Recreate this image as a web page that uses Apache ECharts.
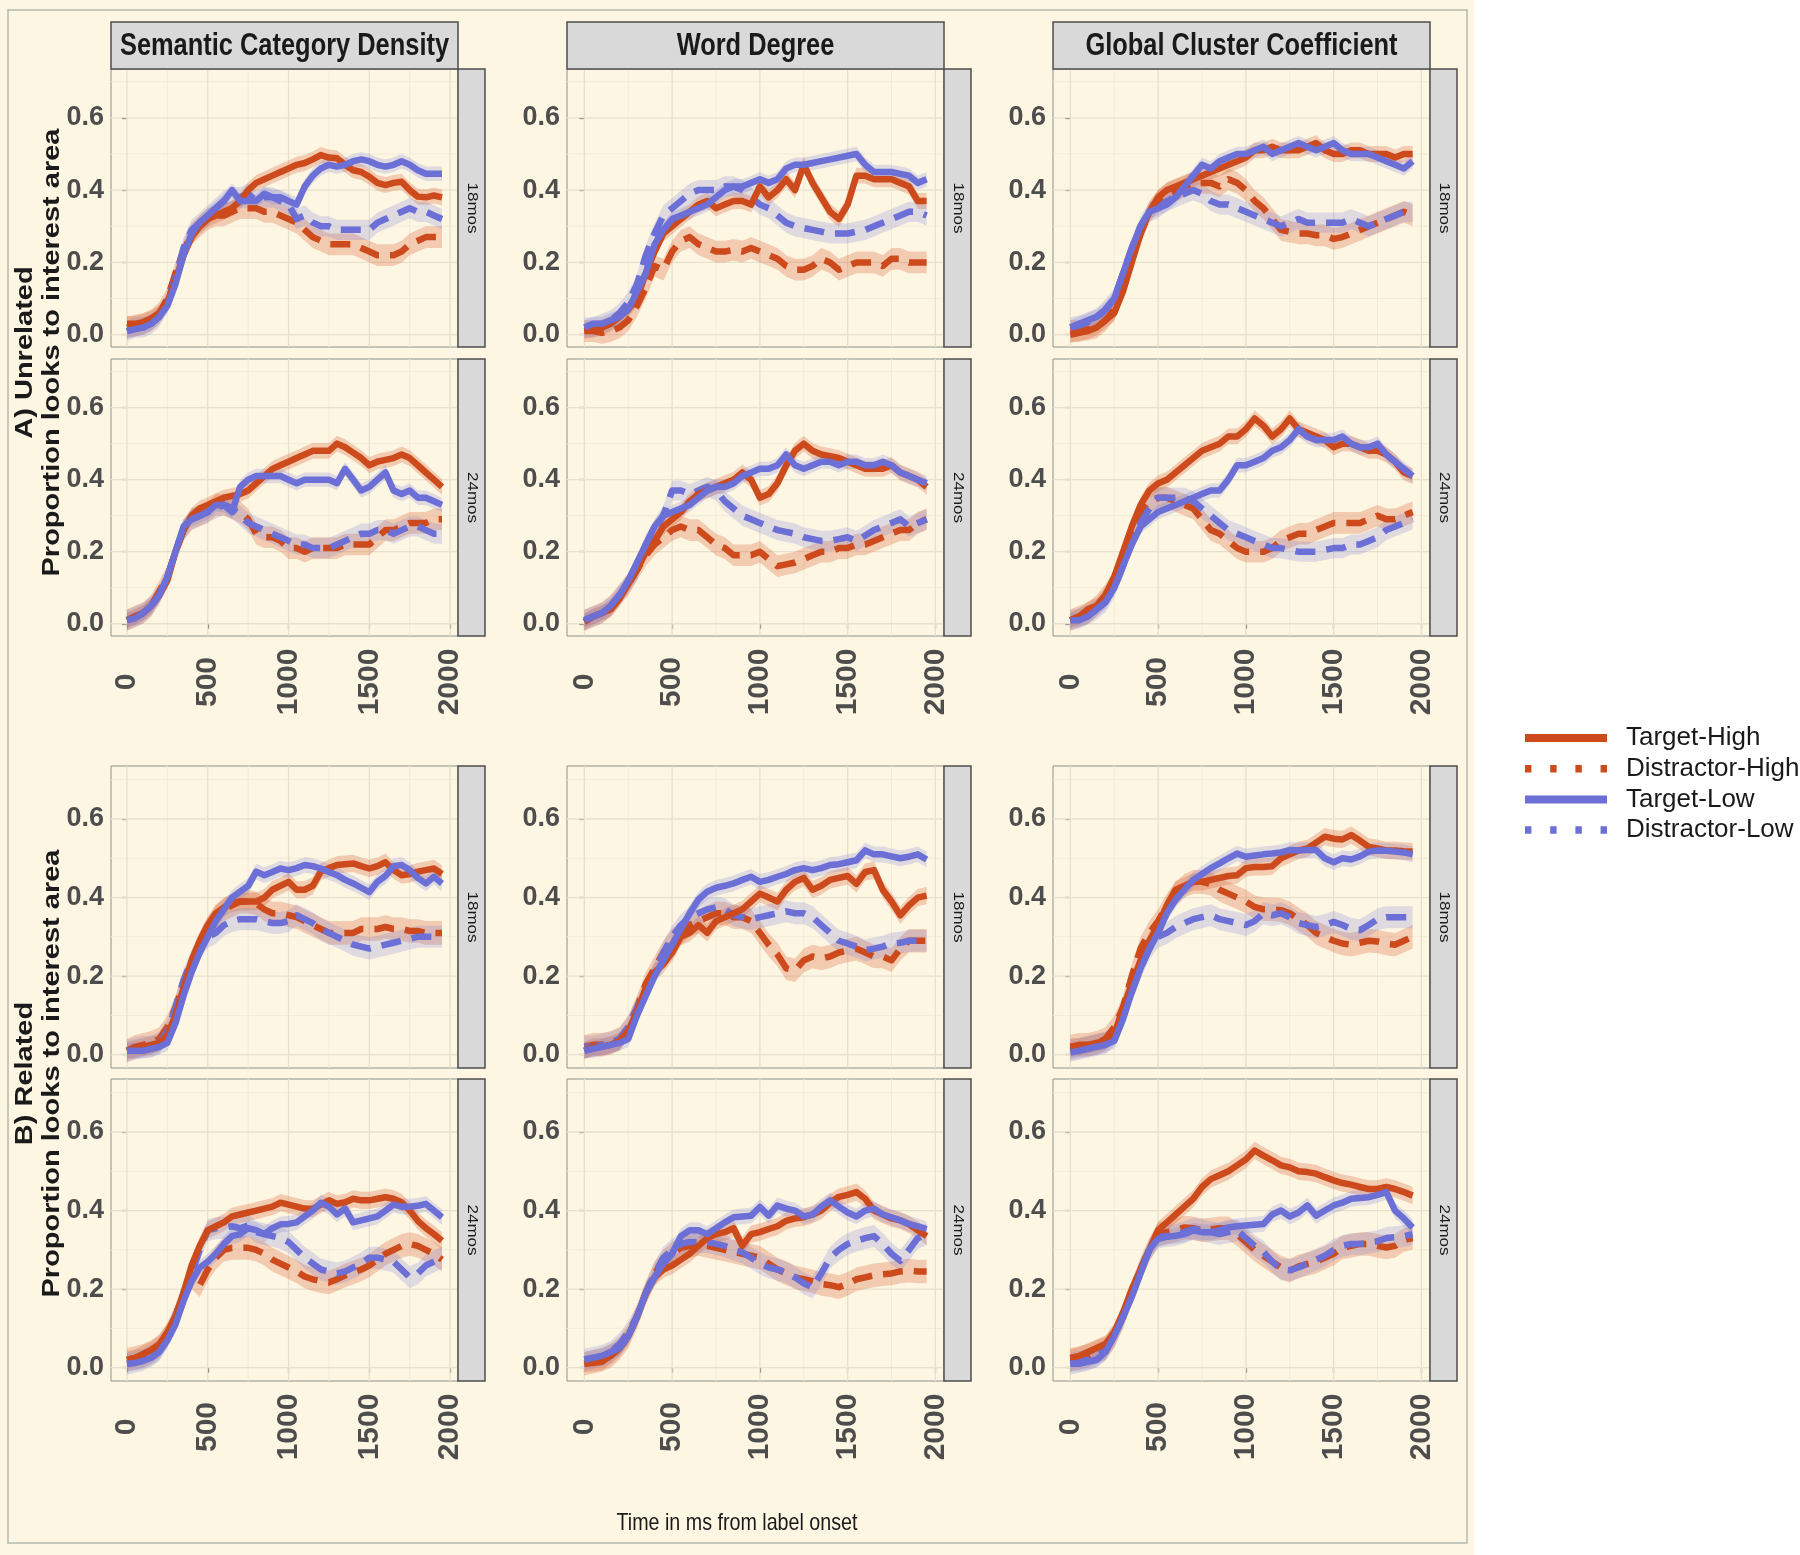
<!DOCTYPE html>
<html><head><meta charset="utf-8">
<script src="https://cdn.jsdelivr.net/npm/echarts@6/dist/echarts.min.js"></script>
<style>html,body{margin:0;padding:0;background:#fff}#c{width:1800px;height:1555px}</style>
</head><body><div id="c"></div>
<script>
// ---------------- data ----------------
const T = [0,50,100,150,200,250,300,350,400,450,500,550,600,650,700,750,800,850,900,950,
  1000,1050,1100,1150,1200,1250,1300,1350,1400,1450,1500,1550,1600,1650,1700,1750,1800,1850,1900,1950];
const COLUMN_TITLES = ['Semantic Category Density', 'Word Degree', 'Global Cluster Coefficient'];
const ROW_LABELS = ['18mos', '24mos', '18mos', '24mos'];
const SERIES_NAMES = ['Target-High', 'Distractor-High', 'Target-Low', 'Distractor-Low'];
const X_TICKS = [0, 500, 1000, 1500, 2000];
const X_MINOR = [250, 750, 1250, 1750];
const Y_TICKS = [0, 0.2, 0.4, 0.6];
const Y_MINOR = [0.1, 0.3, 0.5, 0.7];
const BAND = [0.022, 0.03, 0.02, 0.028]; // ribbon half-widths: TH, DH, TL, DL

// A) Unrelated - Semantic Category Density
const A_SCD_18_TH = [0.03,0.03,0.035,0.045,0.06,0.09,0.15,0.22,0.27,0.30,
  0.32,0.33,0.34,0.35,0.37,0.40,0.42,0.43,0.44,0.45,
  0.46,0.47,0.475,0.485,0.497,0.49,0.488,0.47,0.455,0.45,
  0.437,0.42,0.414,0.42,0.423,0.40,0.382,0.38,0.385,0.38];
const A_SCD_18_DH = [0.02,0.025,0.03,0.04,0.06,0.10,0.17,0.23,0.28,0.30,
  0.32,0.33,0.33,0.34,0.35,0.35,0.35,0.34,0.34,0.33,
  0.32,0.31,0.29,0.27,0.26,0.25,0.25,0.25,0.25,0.24,
  0.23,0.22,0.22,0.22,0.23,0.25,0.26,0.27,0.27,0.27];
const A_SCD_18_TL = [0.01,0.015,0.02,0.03,0.05,0.08,0.14,0.22,0.28,0.31,
  0.33,0.35,0.37,0.40,0.37,0.37,0.37,0.39,0.38,0.38,
  0.37,0.36,0.41,0.44,0.46,0.47,0.465,0.47,0.48,0.485,
  0.48,0.47,0.465,0.47,0.48,0.47,0.455,0.445,0.445,0.445];
const A_SCD_18_DL = [0.01,0.02,0.02,0.03,0.05,0.09,0.16,0.24,0.29,0.31,
  0.33,0.35,0.37,0.38,0.38,0.39,0.37,0.38,0.38,0.37,
  0.36,0.32,0.33,0.31,0.30,0.30,0.29,0.29,0.29,0.29,
  0.29,0.31,0.32,0.33,0.34,0.35,0.34,0.34,0.33,0.32];

const A_SCD_24_TH = [0.01,0.02,0.03,0.05,0.08,0.12,0.20,0.26,0.30,0.32,
  0.33,0.34,0.35,0.355,0.36,0.37,0.39,0.41,0.43,0.44,
  0.45,0.46,0.47,0.48,0.48,0.48,0.50,0.49,0.475,0.46,
  0.44,0.45,0.455,0.46,0.47,0.46,0.44,0.42,0.40,0.38];
const A_SCD_24_DH = [0.01,0.02,0.03,0.05,0.09,0.13,0.20,0.26,0.29,0.30,
  0.31,0.33,0.33,0.32,0.31,0.29,0.25,0.24,0.24,0.23,
  0.21,0.21,0.20,0.21,0.21,0.21,0.21,0.22,0.22,0.22,
  0.22,0.24,0.26,0.26,0.27,0.28,0.28,0.28,0.29,0.29];
const A_SCD_24_TL = [0.01,0.015,0.03,0.05,0.08,0.13,0.20,0.27,0.29,0.30,
  0.31,0.33,0.33,0.31,0.38,0.40,0.41,0.41,0.41,0.41,
  0.40,0.39,0.40,0.40,0.40,0.40,0.39,0.43,0.40,0.37,
  0.38,0.40,0.42,0.37,0.36,0.37,0.35,0.35,0.34,0.33];
const A_SCD_24_DL = [0.01,0.02,0.03,0.05,0.08,0.13,0.20,0.26,0.29,0.30,
  0.31,0.32,0.33,0.32,0.30,0.28,0.27,0.26,0.25,0.24,
  0.23,0.22,0.22,0.21,0.21,0.21,0.22,0.23,0.24,0.25,
  0.25,0.26,0.26,0.25,0.26,0.27,0.27,0.26,0.25,0.25];

// A) Unrelated - Word Degree
const A_WD_18_TH = [0.01,0.015,0.02,0.03,0.05,0.07,0.10,0.17,0.23,0.28,
  0.30,0.32,0.34,0.36,0.37,0.35,0.36,0.37,0.37,0.36,
  0.41,0.38,0.40,0.43,0.40,0.47,0.42,0.38,0.34,0.32,
  0.36,0.44,0.44,0.43,0.43,0.43,0.42,0.41,0.37,0.37];
const A_WD_18_DH = [0.01,0.01,0.005,0.01,0.02,0.04,0.08,0.13,0.19,0.18,
  0.23,0.26,0.27,0.25,0.24,0.23,0.23,0.235,0.23,0.24,
  0.23,0.22,0.21,0.19,0.18,0.18,0.19,0.21,0.20,0.18,
  0.19,0.20,0.20,0.20,0.19,0.21,0.21,0.20,0.20,0.20];
const A_WD_18_TL = [0.02,0.03,0.03,0.04,0.05,0.07,0.12,0.17,0.25,0.29,
  0.32,0.33,0.34,0.35,0.36,0.38,0.40,0.41,0.41,0.42,
  0.43,0.42,0.43,0.46,0.47,0.47,0.475,0.48,0.485,0.49,
  0.495,0.50,0.47,0.45,0.45,0.45,0.445,0.44,0.42,0.43];
const A_WD_18_DL = [0.02,0.02,0.03,0.04,0.06,0.09,0.14,0.22,0.28,0.33,
  0.35,0.37,0.39,0.40,0.40,0.40,0.41,0.41,0.40,0.38,
  0.36,0.35,0.33,0.31,0.30,0.295,0.29,0.285,0.28,0.28,
  0.28,0.285,0.29,0.30,0.31,0.32,0.33,0.34,0.34,0.33];

const A_WD_24_TH = [0.005,0.02,0.03,0.04,0.07,0.11,0.15,0.20,0.23,0.27,
  0.29,0.31,0.34,0.36,0.37,0.38,0.39,0.40,0.42,0.40,
  0.35,0.36,0.39,0.44,0.48,0.50,0.48,0.47,0.465,0.46,
  0.45,0.44,0.43,0.43,0.43,0.44,0.42,0.41,0.40,0.38];
const A_WD_24_DH = [0.01,0.02,0.03,0.05,0.08,0.11,0.15,0.19,0.22,0.24,
  0.26,0.27,0.26,0.26,0.24,0.22,0.21,0.19,0.19,0.19,
  0.20,0.18,0.16,0.165,0.17,0.18,0.19,0.20,0.20,0.21,
  0.21,0.22,0.22,0.23,0.24,0.25,0.26,0.26,0.28,0.29];
const A_WD_24_TL = [0.01,0.02,0.03,0.05,0.08,0.12,0.17,0.22,0.27,0.30,
  0.31,0.32,0.33,0.35,0.37,0.38,0.38,0.39,0.41,0.42,
  0.43,0.43,0.44,0.47,0.44,0.43,0.44,0.45,0.45,0.44,
  0.45,0.45,0.44,0.44,0.45,0.44,0.42,0.41,0.40,0.39];
const A_WD_24_DL = [0.01,0.02,0.03,0.05,0.08,0.11,0.15,0.22,0.26,0.30,
  0.37,0.37,0.36,0.37,0.38,0.37,0.34,0.32,0.30,0.29,
  0.28,0.27,0.26,0.255,0.25,0.24,0.235,0.23,0.23,0.235,
  0.24,0.23,0.245,0.26,0.27,0.28,0.29,0.27,0.28,0.29];

// A) Unrelated - Global Cluster Coefficient
const A_GCC_18_TH = [0.00,0.005,0.01,0.02,0.04,0.06,0.12,0.20,0.28,0.34,
  0.38,0.40,0.41,0.42,0.43,0.44,0.45,0.46,0.47,0.48,
  0.49,0.51,0.51,0.52,0.51,0.51,0.51,0.52,0.53,0.51,
  0.50,0.50,0.51,0.51,0.50,0.50,0.50,0.49,0.50,0.50];
const A_GCC_18_DH = [0.01,0.01,0.015,0.02,0.04,0.07,0.13,0.21,0.28,0.34,
  0.37,0.39,0.40,0.41,0.42,0.42,0.42,0.41,0.43,0.42,
  0.40,0.37,0.35,0.32,0.29,0.285,0.28,0.28,0.275,0.275,
  0.265,0.27,0.28,0.29,0.30,0.31,0.32,0.33,0.34,0.33];
const A_GCC_18_TL = [0.02,0.03,0.04,0.05,0.07,0.10,0.17,0.24,0.30,0.34,
  0.35,0.36,0.38,0.41,0.44,0.47,0.46,0.48,0.49,0.50,
  0.50,0.51,0.52,0.50,0.51,0.52,0.53,0.52,0.51,0.52,
  0.53,0.51,0.50,0.50,0.50,0.49,0.48,0.47,0.46,0.48];
const A_GCC_18_DL = [0.02,0.025,0.035,0.045,0.07,0.10,0.17,0.24,0.30,0.34,
  0.35,0.37,0.38,0.39,0.40,0.39,0.37,0.36,0.36,0.35,
  0.34,0.33,0.32,0.31,0.30,0.31,0.32,0.31,0.31,0.31,
  0.31,0.31,0.32,0.31,0.30,0.31,0.32,0.33,0.34,0.34];

const A_GCC_24_TH = [0.01,0.02,0.04,0.05,0.08,0.13,0.20,0.27,0.33,0.37,
  0.39,0.40,0.42,0.44,0.46,0.48,0.49,0.50,0.52,0.52,
  0.54,0.57,0.55,0.52,0.54,0.57,0.54,0.53,0.52,0.51,
  0.49,0.50,0.50,0.49,0.48,0.48,0.47,0.45,0.42,0.41];
const A_GCC_24_DH = [0.01,0.02,0.03,0.05,0.08,0.12,0.19,0.26,0.31,0.34,
  0.35,0.35,0.34,0.33,0.32,0.29,0.26,0.25,0.23,0.21,
  0.20,0.20,0.20,0.21,0.23,0.24,0.25,0.25,0.26,0.27,
  0.28,0.28,0.28,0.28,0.29,0.30,0.29,0.29,0.30,0.31];
const A_GCC_24_TL = [0.01,0.01,0.02,0.04,0.06,0.10,0.16,0.22,0.27,0.29,
  0.31,0.32,0.33,0.34,0.35,0.36,0.37,0.37,0.40,0.44,
  0.44,0.45,0.46,0.48,0.49,0.51,0.54,0.52,0.51,0.51,
  0.51,0.52,0.50,0.49,0.49,0.50,0.47,0.45,0.43,0.41];
const A_GCC_24_DL = [0.01,0.015,0.025,0.04,0.06,0.10,0.16,0.23,0.28,0.32,
  0.35,0.35,0.35,0.35,0.34,0.32,0.30,0.28,0.26,0.25,
  0.24,0.23,0.22,0.21,0.21,0.205,0.20,0.20,0.20,0.205,
  0.21,0.21,0.22,0.22,0.23,0.24,0.26,0.27,0.28,0.29];

// B) Related - Semantic Category Density
const B_SCD_18_TH = [0.01,0.015,0.02,0.025,0.03,0.05,0.10,0.17,0.24,0.29,
  0.33,0.36,0.375,0.385,0.39,0.39,0.39,0.40,0.42,0.43,
  0.44,0.42,0.42,0.43,0.466,0.475,0.483,0.485,0.487,0.48,
  0.474,0.48,0.49,0.47,0.457,0.46,0.466,0.47,0.474,0.46];
const B_SCD_18_DH = [0.01,0.02,0.025,0.03,0.04,0.07,0.12,0.18,0.23,0.28,
  0.32,0.35,0.37,0.38,0.39,0.39,0.385,0.37,0.36,0.36,
  0.355,0.35,0.34,0.33,0.32,0.31,0.31,0.31,0.31,0.32,
  0.32,0.32,0.325,0.32,0.32,0.315,0.315,0.31,0.31,0.31];
const B_SCD_18_TL = [0.01,0.01,0.01,0.015,0.02,0.03,0.08,0.15,0.21,0.26,
  0.30,0.34,0.37,0.40,0.415,0.43,0.466,0.457,0.465,0.474,
  0.47,0.475,0.483,0.48,0.474,0.465,0.457,0.445,0.436,0.425,
  0.414,0.44,0.455,0.48,0.483,0.47,0.45,0.436,0.453,0.436];
const B_SCD_18_DL = [0.01,0.015,0.02,0.02,0.03,0.06,0.12,0.19,0.24,0.27,
  0.30,0.31,0.33,0.34,0.345,0.345,0.345,0.34,0.335,0.335,
  0.34,0.355,0.345,0.335,0.32,0.31,0.30,0.29,0.28,0.275,
  0.27,0.275,0.28,0.285,0.29,0.295,0.30,0.30,0.30,0.30];

const B_SCD_24_TH = [0.02,0.025,0.035,0.045,0.06,0.09,0.13,0.19,0.26,0.31,
  0.35,0.36,0.37,0.385,0.39,0.395,0.40,0.405,0.41,0.42,
  0.415,0.41,0.405,0.404,0.415,0.426,0.417,0.421,0.43,0.426,
  0.426,0.43,0.434,0.43,0.421,0.40,0.374,0.355,0.34,0.323];
const B_SCD_24_DH = [0.02,0.025,0.03,0.04,0.055,0.085,0.13,0.19,0.23,0.21,
  0.25,0.28,0.30,0.305,0.305,0.305,0.30,0.29,0.275,0.265,
  0.255,0.245,0.232,0.225,0.22,0.217,0.225,0.235,0.242,0.25,
  0.26,0.275,0.29,0.30,0.31,0.315,0.31,0.30,0.29,0.275];
const B_SCD_24_TL = [0.01,0.012,0.017,0.025,0.04,0.07,0.11,0.17,0.22,0.255,
  0.27,0.29,0.315,0.335,0.34,0.355,0.35,0.34,0.355,0.365,
  0.366,0.37,0.385,0.40,0.42,0.41,0.39,0.405,0.37,0.375,
  0.38,0.385,0.40,0.415,0.41,0.41,0.412,0.417,0.40,0.383];
const B_SCD_24_DL = [0.01,0.015,0.02,0.03,0.045,0.08,0.13,0.19,0.24,0.30,
  0.35,0.355,0.357,0.36,0.355,0.362,0.345,0.34,0.335,0.33,
  0.32,0.30,0.28,0.265,0.25,0.245,0.24,0.245,0.255,0.265,
  0.28,0.28,0.275,0.27,0.25,0.23,0.24,0.26,0.27,0.28];

// B) Related - Word Degree
const B_WD_18_TH = [0.01,0.02,0.02,0.025,0.035,0.06,0.11,0.17,0.21,0.23,
  0.26,0.30,0.31,0.33,0.31,0.34,0.35,0.36,0.37,0.39,
  0.41,0.40,0.39,0.42,0.44,0.45,0.42,0.43,0.445,0.45,
  0.455,0.435,0.465,0.47,0.42,0.39,0.355,0.38,0.40,0.405];
const B_WD_18_DH = [0.02,0.025,0.025,0.03,0.04,0.07,0.12,0.18,0.22,0.26,
  0.29,0.31,0.33,0.34,0.35,0.36,0.36,0.35,0.35,0.34,
  0.31,0.28,0.255,0.22,0.215,0.24,0.25,0.245,0.25,0.26,
  0.265,0.27,0.26,0.25,0.25,0.24,0.27,0.29,0.29,0.29];
const B_WD_18_TL = [0.01,0.015,0.02,0.025,0.03,0.04,0.10,0.15,0.20,0.24,
  0.28,0.32,0.36,0.395,0.415,0.425,0.43,0.436,0.445,0.453,
  0.44,0.445,0.453,0.46,0.47,0.475,0.47,0.475,0.483,0.485,
  0.49,0.495,0.52,0.51,0.51,0.505,0.50,0.504,0.51,0.497];
const B_WD_18_DL = [0.02,0.02,0.025,0.03,0.04,0.07,0.12,0.16,0.21,0.26,
  0.30,0.33,0.35,0.36,0.37,0.375,0.37,0.355,0.35,0.345,
  0.35,0.355,0.36,0.365,0.36,0.36,0.35,0.33,0.31,0.29,
  0.283,0.275,0.266,0.27,0.275,0.283,0.285,0.29,0.29,0.29];

const B_WD_24_TH = [0.01,0.012,0.015,0.03,0.05,0.08,0.13,0.19,0.23,0.25,
  0.26,0.275,0.29,0.31,0.33,0.34,0.345,0.355,0.31,0.34,
  0.345,0.353,0.36,0.374,0.38,0.383,0.39,0.40,0.42,0.435,
  0.44,0.447,0.43,0.40,0.39,0.38,0.375,0.365,0.35,0.335];
const B_WD_24_DH = [0.01,0.015,0.02,0.03,0.05,0.08,0.13,0.19,0.24,0.27,
  0.29,0.305,0.31,0.315,0.31,0.305,0.30,0.295,0.29,0.285,
  0.28,0.265,0.25,0.24,0.23,0.225,0.22,0.213,0.21,0.205,
  0.213,0.225,0.23,0.235,0.238,0.24,0.245,0.247,0.245,0.245];
const B_WD_24_TL = [0.02,0.025,0.03,0.04,0.05,0.08,0.13,0.19,0.23,0.265,
  0.29,0.335,0.35,0.35,0.34,0.355,0.37,0.383,0.385,0.387,
  0.409,0.387,0.413,0.405,0.40,0.385,0.39,0.41,0.426,0.41,
  0.395,0.385,0.40,0.405,0.39,0.383,0.375,0.366,0.36,0.353];
const B_WD_24_DL = [0.02,0.025,0.03,0.04,0.06,0.09,0.13,0.19,0.24,0.28,
  0.30,0.315,0.32,0.32,0.32,0.315,0.31,0.30,0.294,0.28,
  0.265,0.255,0.25,0.243,0.23,0.215,0.204,0.24,0.28,0.30,
  0.315,0.323,0.33,0.335,0.315,0.29,0.272,0.30,0.33,0.34];

// B) Related - Global Cluster Coefficient
const B_GCC_18_TH = [0.02,0.02,0.025,0.03,0.035,0.05,0.12,0.18,0.24,0.29,
  0.33,0.38,0.42,0.43,0.44,0.44,0.445,0.45,0.455,0.457,
  0.475,0.478,0.478,0.48,0.50,0.51,0.52,0.525,0.54,0.555,
  0.55,0.548,0.559,0.545,0.529,0.525,0.52,0.52,0.518,0.517];
const B_GCC_18_DH = [0.02,0.025,0.025,0.03,0.04,0.07,0.12,0.20,0.27,0.31,
  0.34,0.38,0.41,0.43,0.44,0.44,0.435,0.42,0.41,0.40,
  0.39,0.376,0.37,0.37,0.368,0.36,0.345,0.33,0.31,0.30,
  0.29,0.283,0.28,0.285,0.29,0.288,0.283,0.28,0.29,0.30];
const B_GCC_18_TL = [0.005,0.01,0.015,0.02,0.025,0.035,0.09,0.16,0.22,0.27,
  0.31,0.36,0.395,0.42,0.445,0.46,0.475,0.487,0.50,0.512,
  0.504,0.507,0.51,0.512,0.515,0.521,0.52,0.521,0.521,0.50,
  0.49,0.50,0.497,0.505,0.517,0.52,0.519,0.517,0.515,0.51];
const B_GCC_18_DL = [0.01,0.015,0.02,0.025,0.03,0.05,0.10,0.16,0.22,0.27,
  0.30,0.31,0.325,0.335,0.345,0.35,0.355,0.345,0.34,0.335,
  0.33,0.34,0.36,0.355,0.36,0.35,0.335,0.33,0.325,0.33,
  0.338,0.33,0.32,0.317,0.33,0.345,0.35,0.35,0.35,0.35];

const B_GCC_24_TH = [0.025,0.03,0.04,0.05,0.06,0.09,0.14,0.20,0.25,0.30,
  0.35,0.37,0.39,0.41,0.43,0.46,0.48,0.49,0.50,0.515,
  0.53,0.553,0.54,0.528,0.515,0.51,0.50,0.498,0.494,0.485,
  0.477,0.47,0.466,0.46,0.455,0.455,0.46,0.455,0.447,0.438];
const B_GCC_24_DH = [0.02,0.025,0.03,0.04,0.05,0.08,0.13,0.19,0.25,0.30,
  0.34,0.345,0.35,0.357,0.355,0.35,0.352,0.355,0.355,0.34,
  0.32,0.30,0.285,0.27,0.255,0.247,0.258,0.264,0.27,0.28,
  0.29,0.306,0.31,0.315,0.315,0.31,0.306,0.31,0.325,0.33];
const B_GCC_24_TL = [0.01,0.01,0.015,0.02,0.04,0.08,0.13,0.18,0.24,0.30,
  0.328,0.333,0.336,0.34,0.349,0.345,0.345,0.35,0.357,0.36,
  0.362,0.364,0.366,0.39,0.40,0.385,0.395,0.413,0.387,0.40,
  0.413,0.42,0.43,0.432,0.434,0.44,0.447,0.40,0.38,0.357];
const B_GCC_24_DL = [0.01,0.015,0.02,0.03,0.045,0.08,0.13,0.19,0.25,0.30,
  0.332,0.335,0.338,0.345,0.353,0.35,0.345,0.34,0.345,0.35,
  0.33,0.31,0.295,0.27,0.25,0.248,0.255,0.265,0.275,0.285,
  0.30,0.31,0.315,0.315,0.318,0.322,0.33,0.332,0.335,0.34];

// ---------------- layout & style ----------------
const PANELS = [
  {r:0,c:0,s:[A_SCD_18_TH,A_SCD_18_DH,A_SCD_18_TL,A_SCD_18_DL]},
  {r:0,c:1,s:[A_WD_18_TH,A_WD_18_DH,A_WD_18_TL,A_WD_18_DL]},
  {r:0,c:2,s:[A_GCC_18_TH,A_GCC_18_DH,A_GCC_18_TL,A_GCC_18_DL]},
  {r:1,c:0,s:[A_SCD_24_TH,A_SCD_24_DH,A_SCD_24_TL,A_SCD_24_DL]},
  {r:1,c:1,s:[A_WD_24_TH,A_WD_24_DH,A_WD_24_TL,A_WD_24_DL]},
  {r:1,c:2,s:[A_GCC_24_TH,A_GCC_24_DH,A_GCC_24_TL,A_GCC_24_DL]},
  {r:2,c:0,s:[B_SCD_18_TH,B_SCD_18_DH,B_SCD_18_TL,B_SCD_18_DL]},
  {r:2,c:1,s:[B_WD_18_TH,B_WD_18_DH,B_WD_18_TL,B_WD_18_DL]},
  {r:2,c:2,s:[B_GCC_18_TH,B_GCC_18_DH,B_GCC_18_TL,B_GCC_18_DL]},
  {r:3,c:0,s:[B_SCD_24_TH,B_SCD_24_DH,B_SCD_24_TL,B_SCD_24_DL]},
  {r:3,c:1,s:[B_WD_24_TH,B_WD_24_DH,B_WD_24_TL,B_WD_24_DL]},
  {r:3,c:2,s:[B_GCC_24_TH,B_GCC_24_DH,B_GCC_24_TL,B_GCC_24_DL]}
];
const COLS = [{left:111,width:347},{left:567,width:377},{left:1053,width:377}];
const ROWS = [{top:69,height:278},{top:359,height:277},{top:766,height:302},{top:1079,height:302}];
const STRIP_W = 27;
const XMIN = -99, XMAX = 2049, YMIN = -0.034, YMAX = 0.735;

const C_HIGH = '#cd4a1c', C_LOW = '#6b6fd6';
const LINE_COLORS = [C_HIGH, C_HIGH, C_LOW, C_LOW];
const BAND_COLORS = ['rgba(214,90,40,0.27)','rgba(214,90,40,0.27)','rgba(120,124,210,0.23)','rgba(120,124,210,0.23)'];
const DASHED = [false, true, false, true];
const SANS = "'Liberation Sans',Arial,Helvetica,sans-serif";
const SQUASH = 0.82; // horizontal compression seen in the reference text
const BG = '#fdf6e3';

const chart = echarts.init(document.getElementById('c'), null, {renderer:'canvas'});

const grids = [], xAxes = [], yAxes = [], series = [];
const near = (arr, v) => arr.some(t => Math.abs(t - v) < 1e-6);

PANELS.forEach((p, k) => {
  const col = COLS[p.c], row = ROWS[p.r];
  const bottomRow = (p.r === 1 || p.r === 3);
  grids.push({left:col.left, top:row.top, width:col.width, height:row.height,
    show:true, backgroundColor:BG, borderColor:'#8e938b', borderWidth:1,
    containLabel:false, outerBoundsMode:'none'});
  xAxes.push({gridIndex:k, type:'value', min:XMIN, max:XMAX,
    axisLine:{show:false}, splitLine:{show:false}, minorSplitLine:{show:false},
    axisTick:{show:bottomRow, length:5, customValues:X_TICKS, lineStyle:{color:'#555', width:1.2}},
    axisLabel:{show:bottomRow, customValues:X_TICKS, rotate:90, align:'center', verticalAlign:'middle',
      margin:46, fontSize:30, fontWeight:'bold', fontFamily:SANS, color:'#4d4d4d',
      formatter: v => near(X_TICKS, v) ? String(Math.round(v)) : ''}});
  yAxes.push({gridIndex:k, type:'value', min:YMIN, max:YMAX,
    axisLine:{show:false}, splitLine:{show:false}, minorSplitLine:{show:false},
    axisTick:{show:true, length:5, customValues:Y_TICKS, lineStyle:{color:'#555', width:1.2}},
    axisLabel:{customValues:Y_TICKS, margin:7, fontSize:27, fontWeight:'bold', fontFamily:SANS, color:'#4d4d4d',
      formatter: v => near(Y_TICKS, v) ? v.toFixed(1) : ''}});

  // panel grid lines drawn through the axes' scales
  series.push({type:'custom', xAxisIndex:k, yAxisIndex:k, silent:true, animation:false, z:1,
    data:[[0,0]],
    renderItem: (params, api) => {
      const ch = [];
      const vline = (x, color, w) => { const a = api.coord([x, YMIN]), b = api.coord([x, YMAX]);
        ch.push({type:'line', shape:{x1:a[0],y1:a[1],x2:b[0],y2:b[1]}, style:{stroke:color, lineWidth:w}}); };
      const hline = (y, color, w) => { const a = api.coord([XMIN, y]), b = api.coord([XMAX, y]);
        ch.push({type:'line', shape:{x1:a[0],y1:a[1],x2:b[0],y2:b[1]}, style:{stroke:color, lineWidth:w}}); };
      X_MINOR.forEach(x => vline(x, '#f1ebd9', 1));
      Y_MINOR.forEach(y => hline(y, '#f1ebd9', 1));
      X_TICKS.forEach(x => vline(x, '#e6e0cc', 1.3));
      Y_TICKS.forEach(y => hline(y, '#e6e0cc', 1.3));
      return {type:'group', children:ch};
    }});

  // ribbons
  p.s.forEach((vals, j) => {
    const hw = BAND[j];
    series.push({type:'custom', xAxisIndex:k, yAxisIndex:k, silent:true, animation:false, z:2,
      data:[[0,0]],
      renderItem: (params, api) => {
        const pts = [];
        for (let i = 0; i < T.length; i++) pts.push(api.coord([T[i], vals[i] + hw]));
        for (let i = T.length - 1; i >= 0; i--) pts.push(api.coord([T[i], vals[i] - hw]));
        return {type:'polygon', shape:{points:pts}, style:{fill:BAND_COLORS[j]}};
      }});
  });
  // lines
  [1, 3, 0, 2].forEach(j => {
    series.push({type:'line', name:SERIES_NAMES[j], xAxisIndex:k, yAxisIndex:k,
      data: T.map((t, i) => [t, p.s[j][i]]),
      symbol:'none', silent:true, animation:false, z:3,
      itemStyle:{color:LINE_COLORS[j]},
      lineStyle:{width:6.5, color:LINE_COLORS[j], type: DASHED[j] ? [20, 11] : 'solid', cap:'butt', join:'round'}});
  });
});

// ---------------- decorations (strips, titles) ----------------
const graphics = [
  {type:'rect', shape:{x:0, y:0, width:1474, height:1555}, style:{fill:BG}, z:-100, silent:true},
  {type:'rect', shape:{x:8, y:10, width:1459, height:1533}, style:{fill:'none', stroke:'#b3baae', lineWidth:1.5}, z:-99, silent:true}
];
COLS.forEach((col, c) => {
  graphics.push({type:'rect', shape:{x:col.left, y:22, width:col.width, height:47},
    style:{fill:'#d9d9d9', stroke:'#4d4d4d', lineWidth:1.5}, z:10, silent:true});
  graphics.push({type:'text', x:col.left + col.width/2, y:46, scaleX:SQUASH, z:11, silent:true,
    style:{text:COLUMN_TITLES[c], fontFamily:SANS, fontWeight:'bold', fontSize:31, fill:'#1a1a1a',
      align:'center', verticalAlign:'middle'}});
  ROWS.forEach((row, r) => {
    graphics.push({type:'rect', shape:{x:col.left + col.width, y:row.top, width:STRIP_W, height:row.height},
      style:{fill:'#d9d9d9', stroke:'#4d4d4d', lineWidth:1.5}, z:10, silent:true});
    graphics.push({type:'text', x:col.left + col.width + STRIP_W/2 + 0.5, y:row.top + row.height/2,
      rotation:-Math.PI/2, scaleY:SQUASH, z:11, silent:true,
      style:{text:ROW_LABELS[r], fontFamily:SANS, fontSize:17, fill:'#1a1a1a', align:'center', verticalAlign:'middle'}});
  });
});
[['A) Unrelated', 0, 1], ['B) Related', 2, 3]].forEach(([lab, r0, r1]) => {
  graphics.push({type:'text', x:39, y:(ROWS[r0].top + ROWS[r1].top + ROWS[r1].height)/2,
    rotation:Math.PI/2, scaleY:SQUASH, z:11, silent:true,
    style:{text:lab + '\nProportion looks to interest area', fontFamily:SANS, fontWeight:'bold', fontSize:29,
      lineHeight:33, fill:'#1a1a1a', align:'center', verticalAlign:'middle'}});
});
graphics.push({type:'text', x:737, y:1523, scaleX:SQUASH, z:11, silent:true,
  style:{text:'Time in ms from label onset', fontFamily:SANS, fontSize:24, fill:'#1a1a1a', align:'center', verticalAlign:'middle'}});

const DOTS = 'path://M0,0h6v7h-6z M23.5,0h6v7h-6z M47,0h6v7h-6z M70.5,0h6v7h-6z';

chart.setOption({
  backgroundColor:'#ffffff',
  animation:false,
  grid:grids, xAxis:xAxes, yAxis:yAxes, series:series,
  graphic:{elements:graphics},
  legend:{
    orient:'vertical', left:1525, top:723, padding:0, itemGap:0.7,
    itemWidth:82, itemHeight:8, selectedMode:false,
    data:[
      {name:'Target-High', icon:'rect'},
      {name:'Distractor-High', icon:DOTS},
      {name:'Target-Low', icon:'rect'},
      {name:'Distractor-Low', icon:DOTS}
    ],
    textStyle:{fontFamily:SANS, fontSize:26, color:'#1a1a1a', lineHeight:30, padding:[0,0,0,14]}
  }
});
</script></body></html>
